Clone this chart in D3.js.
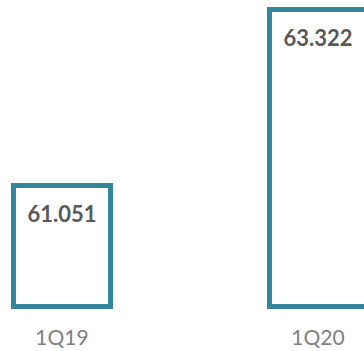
<!DOCTYPE html>
<html>
<head>
<meta charset="utf-8">
<script src="https://cdn.jsdelivr.net/npm/d3@7"></script>
<style>
  html, body { margin: 0; padding: 0; background: #fff; }
  svg { display: block; }
</style>
</head>
<body>
<svg id="chart" width="364" height="351"></svg>
<script>
const quarters = ["1Q19", "1Q20"];
const values = [61.051, 63.322];
const valueLabels = ["61.051", "63.322"];

const svg = d3.select("#chart");

const x = d3.scaleBand()
  .domain(quarters)
  .range([-66, 446])
  .paddingInner(0.621)
  .paddingOuter(0.3105);

const y = d3.scaleLinear()
  .domain([59.49, 63.322])
  .range([306.5, 9.5]);

const bars = svg.append("g");

bars.selectAll("rect")
  .data(values)
  .join("rect")
  .attr("x", (d, i) => x(quarters[i]))
  .attr("y", d => y(d))
  .attr("width", x.bandwidth())
  .attr("height", d => y.range()[0] - y(d))
  .attr("fill", "#ffffff")
  .attr("stroke", "#31869b")
  .attr("stroke-width", 5);

bars.selectAll("text")
  .data(values)
  .join("text")
  .attr("x", (d, i) => x(quarters[i]) + x.bandwidth() / 2)
  .attr("y", d => y(d) + 36.5)
  .attr("text-anchor", "middle")
  .attr("font-family", "Lato, 'Open Sans', sans-serif")
  .attr("font-weight", "bold")
  .attr("font-size", 22)
  .attr("fill", "#595959")
  .text((d, i) => valueLabels[i]);

const axis = svg.append("g")
  .attr("transform", "translate(0,323)")
  .call(d3.axisBottom(x).tickSize(0).tickPadding(0));

axis.select(".domain").remove();
axis.selectAll("text")
  .attr("dy", null)
  .attr("y", 22)
  .attr("font-family", "Lato, 'Open Sans', sans-serif")
  .attr("font-size", 21)
  .attr("fill", "#7f7f7f");
</script>
</body>
</html>
